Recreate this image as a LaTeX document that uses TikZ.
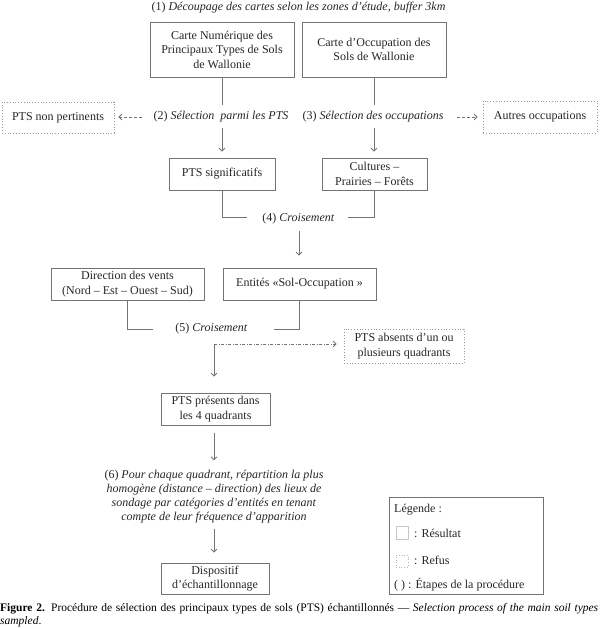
\documentclass[tikz,border=0pt]{standalone}
\usepackage{fontspec}
\setmainfont{Liberation Serif}
\usetikzlibrary{arrows.meta}
\definecolor{boxgray}{gray}{0.45}
\definecolor{linegray}{gray}{0.45}
\definecolor{dotgray}{gray}{0.6}
\definecolor{textcol}{gray}{0.15}
\tikzset{
  every node/.style={text=textcol, font=\fontsize{12}{14.5}\selectfont},
  resbox/.style={draw=boxgray, line width=0.8pt, inner sep=0pt, align=center},
  refbox/.style={draw=dotgray, line width=0.8pt, dotted, inner sep=0pt, align=center},
  lbl/.style={inner sep=0pt, align=center},
  conn/.style={draw=linegray, line width=0.8pt},
  arr/.style={conn, -{Straight Barb[length=3pt,width=6pt]}},
  darr/.style={arr, densely dashed},
  ddarr/.style={arr, dash pattern=on 3pt off 1.5pt on 1pt off 1.5pt},
}
\begin{document}
\begin{tikzpicture}[x=1pt,y=-1pt]
\useasboundingbox (0,0) rectangle (600,629);
% step 1
\node[lbl] (t1) at (298.5,8) {(1) \textit{Découpage des cartes selon les zones d’étude, buffer 3km}};
\node[resbox, minimum width=144pt, minimum height=55pt] (cnum) at (222,49.5) {Carte Numérique des\\Principaux Types de Sols\\de Wallonie};
\node[resbox, minimum width=144pt, minimum height=55pt] (cocc) at (374,49.5) {Carte d’Occupation des\\Sols de Wallonie};
% steps 2,3
\node[lbl] (t2) at (221,117) {(2) \textit{Sélection\ \ parmi les PTS}};
\node[lbl] (t3) at (373,117) {(3) \textit{Sélection des occupations}};
\node[refbox, minimum width=112pt, minimum height=31pt] (nonpert) at (58,117.5) {PTS non pertinents};
\node[refbox, minimum width=114pt, minimum height=32pt] (autres) at (540,117) {Autres occupations};
\node[resbox, minimum width=106pt, minimum height=32pt] (sig) at (222,174) {PTS significatifs};
\node[resbox, minimum width=105pt, minimum height=32pt] (cult) at (374.5,174) {Cultures –\\Prairies – Forêts};
\coordinate (a2) at (222,105);
\coordinate (b2) at (222,128);
\coordinate (a3) at (374,105);
\coordinate (b3) at (374,128);
\draw[conn] (cnum.south) -- (a2);
\draw[arr, shorten >=6pt] (b2) -- (sig.north);
\draw[conn] (cocc.south) -- (a3);
\draw[arr, shorten >=6pt] (b3) -- (b3 |- cult.north);
\draw[darr, shorten <=11pt, shorten >=4pt] (t2.west) -- (t2.west -| nonpert.east);
\draw[darr, shorten <=13pt, shorten >=5pt] (t3.east) -- (t3.east -| autres.west);
% step 4
\node[lbl] (t4) at (298.5,219) {(4) \textit{Croisement}};
\coordinate (l4) at (247,217.5);
\coordinate (r4) at (348,217.5);
\draw[conn] (sig.south) |- (l4);
\draw[conn] (cult.south) |- (r4);
\node[resbox, minimum width=153pt, minimum height=32pt] (dir) at (127.5,284) {Direction des vents\\(Nord – Est – Ouest – Sud)};
\node[resbox, minimum width=153pt, minimum height=32pt] (ent) at (299.5,284) {Entités «Sol-Occupation »};
\coordinate (b4) at (299,231);
\draw[arr, shorten >=12pt] (b4) -- (b4 |- ent.north);
% step 5
\node[lbl] (t5) at (211.5,329) {(5) \textit{Croisement}};
\coordinate (l5) at (153,329);
\coordinate (r5) at (274,329);
\draw[conn] (dir.south) |- (l5);
\draw[conn] (ent.south) |- (r5);
\node[refbox, minimum width=120pt, minimum height=34pt] (absent) at (404,346) {PTS absents d’un ou\\plusieurs quadrants};
\node[resbox, minimum width=109pt, minimum height=32pt] (pres) at (215.5,409) {PTS présents dans\\les 4 quadrants};
\coordinate (c5) at (214,344);
\draw[ddarr, shorten >=7pt] (c5) -- (c5 -| absent.west);
\draw[arr, shorten >=16pt] (c5) -- (c5 |- pres.north);
% step 6
\node[lbl, font=\fontsize{12}{14}\selectfont] (t6) at (214,497) {(6) \textit{Pour chaque quadrant, répartition la plus}\\\textit{homogène (distance – direction) des lieux de}\\\textit{sondage par catégories d’entités en tenant}\\\textit{compte de leur fréquence d’apparition}};
\node[resbox, minimum width=108pt, minimum height=31pt] (disp) at (215,578.5) {Dispositif\\d’échantillonnage};
\coordinate (a6) at (214,433);
\coordinate (b6) at (214,529);
\draw[arr, shorten >=10pt] (a6) -- (a6 |- t6.north);
\draw[arr, shorten >=10pt] (b6) -- (b6 |- disp.north);
% legend
\node[draw=boxgray, line width=0.8pt, minimum width=154pt, minimum height=97pt, inner sep=0pt] (leg) at (466,545.5) {};
\node[lbl, anchor=west] (legt) at (394,510) {Légende :};
\node[draw=gray!45, line width=0.7pt, minimum width=12pt, minimum height=13pt, inner sep=0pt] (lr) at (402,532.5) {};
\node[lbl, anchor=west] (lrt) at (414,533) {: Résultat};
\node[draw=dotgray!70, dotted, line width=0.7pt, minimum width=12pt, minimum height=12pt, inner sep=0pt] (lf) at (402,561) {};
\node[lbl, anchor=west] (lft) at (414,560) {: Refus};
\node[lbl, anchor=west] (let) at (394,585) {( ) : Étapes de la procédure};
% caption
\node[inner sep=0pt, align=justify, text width=598pt, anchor=north west, text=black, font=\fontsize{11.5}{13}\selectfont] (cap) at (0,603) {\textbf{Figure 2.} Procédure de sélection des principaux types de sols (PTS) échantillonnés — \textit{Selection process of the main soil types}\linebreak\textit{sampled}.};
\end{tikzpicture}
\end{document}
